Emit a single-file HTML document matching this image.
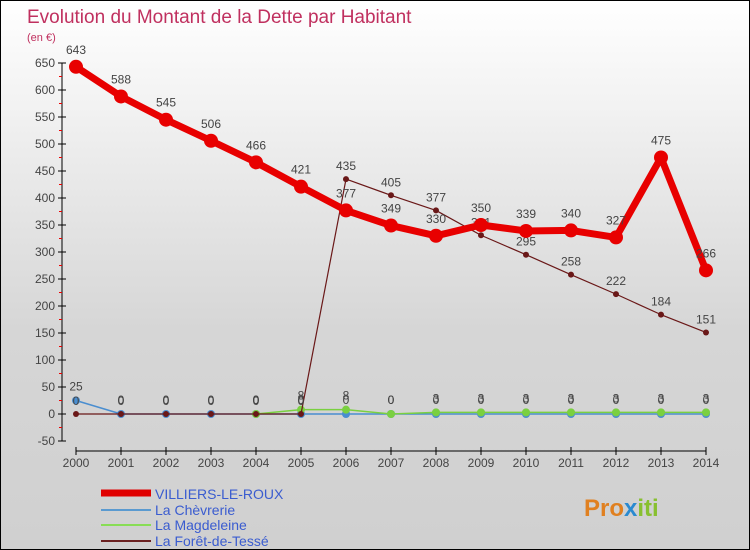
<!DOCTYPE html>
<html><head><meta charset="utf-8"><style>
body{margin:0}
#c{width:750px;height:550px;position:relative;overflow:hidden;border:1px solid #000;box-sizing:border-box;background:linear-gradient(#ffffff,#d6d6d6 60%,#d0d0d0);font-family:"Liberation Sans",sans-serif}
</style></head><body>
<div id="c">
<svg id="s" width="750" height="550">
<text x="26" y="22" font-size="19" fill="#c0305f" font-weight="300">Evolution du Montant de la Dette par Habitant</text>
<text x="26" y="40" font-size="11" fill="#c0305f">(en €)</text>
<g id="axes"></g><g id="series"></g>
<g font-size="14" fill="#3a5cd0">
<line x1="100" y1="492" x2="150" y2="492" stroke="#e00000" stroke-width="7"/>
<text x="154" y="498">VILLIERS-LE-ROUX</text>
<line x1="100" y1="509" x2="150" y2="509" stroke="#5a9ad0" stroke-width="2"/>
<text x="154" y="514">La Chèvrerie</text>
<line x1="100" y1="524" x2="150" y2="524" stroke="#88dd55" stroke-width="2"/>
<text x="154" y="529">La Magdeleine</text>
<line x1="100" y1="540" x2="150" y2="540" stroke="#6a2020" stroke-width="2"/>
<text x="154" y="545">La Forêt-de-Tessé</text>
</g>
<text x="583" y="515" font-size="24" font-weight="bold" fill="#e08020">Pro<tspan fill="#2a8ad0">x</tspan><tspan fill="#88c030">iti</tspan></text>
</svg></div>
<script>
const years=[2000,2001,2002,2003,2004,2005,2006,2007,2008,2009,2010,2011,2012,2013,2014];
const yTicks=[-50,0,50,100,150,200,250,300,350,400,450,500,550,600,650];
const villiers=[643,588,545,506,466,421,377,349,330,350,339,340,327,475,266];
const chevrerie=[25,0,0,0,0,0,0,0,0,0,0,0,0,0,0];
const magdeleine=[null,null,null,null,0,8,8,0,3,3,3,3,3,3,3];
const foret=[0,0,0,0,0,0,435,405,377,331,295,258,222,184,151];
const NS="http://www.w3.org/2000/svg";
const X=i=>75+i*45.0;
const Y=v=>413-v*0.54;
function mk(t,a,p){const e=document.createElementNS(NS,t);for(const k in a)e.setAttribute(k,a[k]);p.appendChild(e);return e;}
const ax=document.getElementById('axes'),sr=document.getElementById('series');
let l=mk('line',{x1:61,y1:Y(650),x2:61,y2:Y(-50),stroke:'#000'},ax);


l=mk('line',{x1:X(0),y1:450,x2:X(14),y2:450,stroke:'#000'},ax);


yTicks.forEach(v=>{mk('line',{x1:57,y1:Y(v),x2:65,y2:Y(v),stroke:'#000'},ax);
if(v<650)mk('line',{x1:58,y1:Y(v+25),x2:61,y2:Y(v+25),stroke:'#e00'},ax);
const t=mk('text',{x:54,y:Y(v)+4,'font-size':12,fill:'#444','text-anchor':'end'},ax);t.textContent=v;

});
years.forEach((y,i)=>{mk('line',{x1:X(i),y1:446,x2:X(i),y2:454,stroke:'#000'},ax);
const t=mk('text',{x:X(i),y:466,'font-size':12,fill:'#444','text-anchor':'middle'},ax);t.textContent=y;

});
function draw(arr,name,color,w,r,lab){
const g=mk('g',{},sr);


let d='';arr.forEach((v,i)=>{if(v==null)return;d+=(d?'L':'M')+X(i)+','+Y(v);});
mk('path',{d:d,fill:'none',stroke:color,'stroke-width':w,'stroke-linejoin':'round'},g);
arr.forEach((v,i)=>{if(v==null)return;const c=mk('circle',{cx:X(i),cy:Y(v),r:r,fill:color},g);


if(lab){const t=mk('text',{x:X(i),y:Y(v)-r-6,'font-size':12,fill:'#444','text-anchor':'middle'},g);t.textContent=v;

}});}
draw(chevrerie,'chevrerie','#4a8ed0',1.5,4,true);
draw(magdeleine,'magdeleine','#7ad040',1.5,4,true);
draw(foret,'foret','#6a1818',1.2,3,true);
draw(villiers,'villiers','#e80000',7,7,true);
</script>
</body></html>
